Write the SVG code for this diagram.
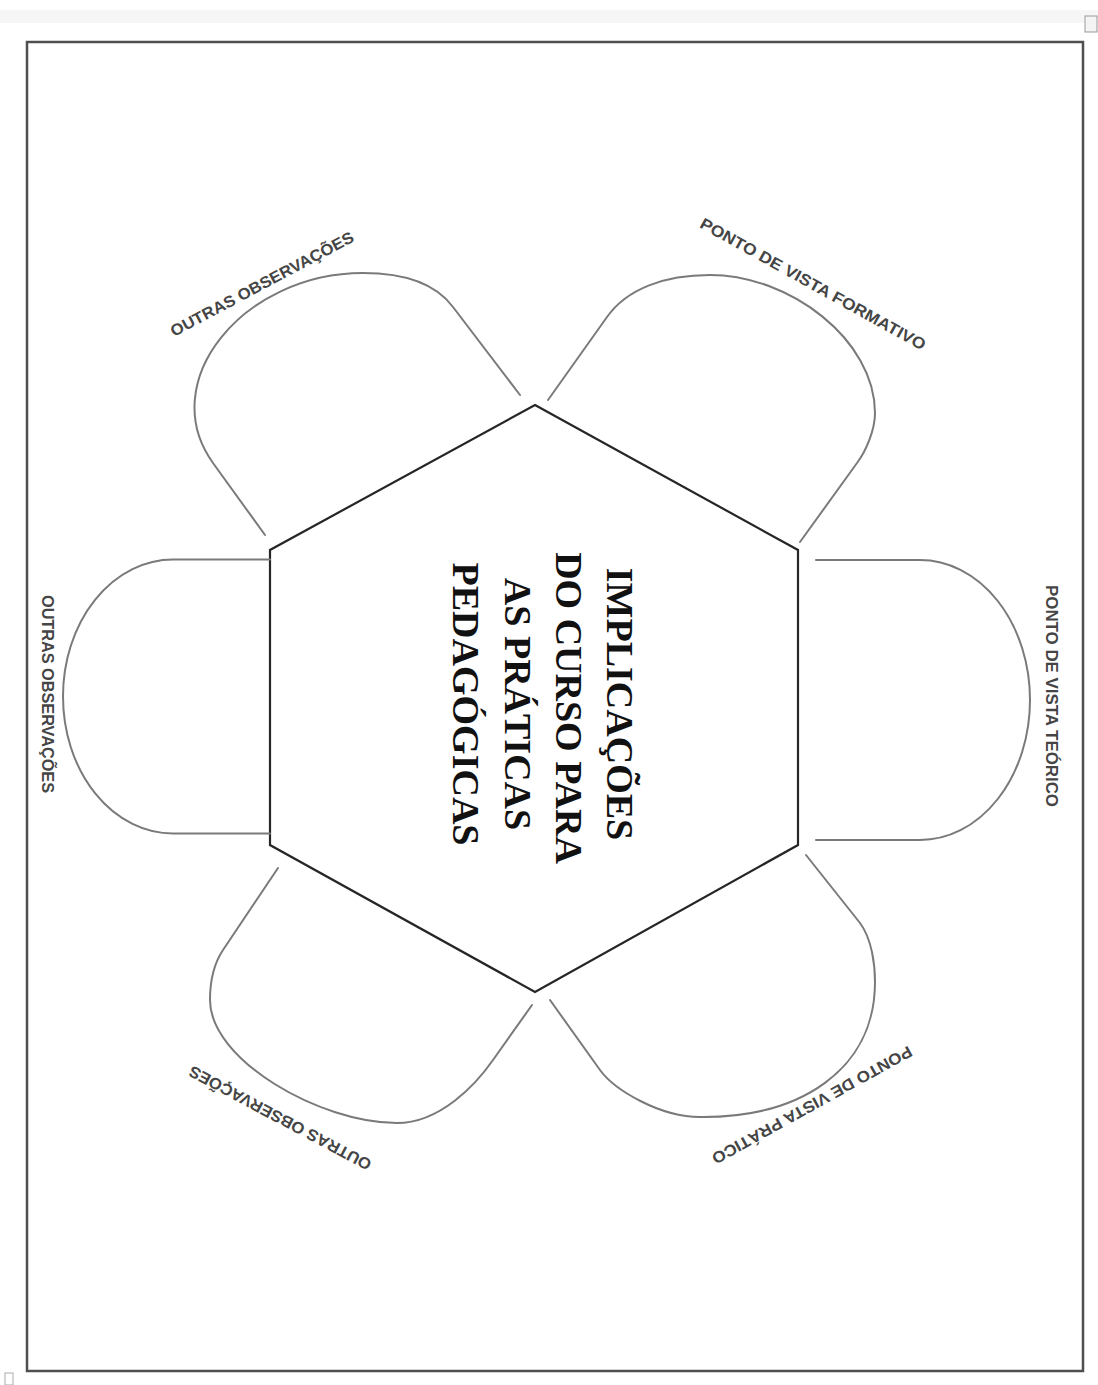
<svg xmlns="http://www.w3.org/2000/svg" width="1098" height="1385" viewBox="0 0 1098 1385">
  <style>
    .petal { fill: none; stroke: #7a7a7a; stroke-width: 2; stroke-linejoin: round; stroke-linecap: round; }
    .hex { fill: none; stroke: #262626; stroke-width: 2.2; stroke-linejoin: miter; }
    .lbl { font-family: "Liberation Sans", Arial, sans-serif; font-size: 16px; font-weight: bold; fill: #454545; text-anchor: middle; dominant-baseline: central; }
    .title { font-family: "Liberation Serif", "Times New Roman", serif; font-size: 38px; font-weight: bold; fill: #111; text-anchor: middle; }
  </style>
  <rect x="0" y="0" width="1098" height="1385" fill="#ffffff"/>
  <rect x="0" y="10" width="1098" height="13" fill="#f6f6f6"/>
  <g id="frame">
    <rect x="27" y="42" width="1056" height="1329" fill="#ffffff" stroke="#4f4f4f" stroke-width="2.5"/>
    <rect x="1085" y="16" width="12" height="16" fill="#f4f4f4" stroke="#999" stroke-width="1"/>
    <rect x="5" y="1373" width="8" height="12" fill="#fff" stroke="#aaa" stroke-width="1"/>
  </g>

  <g id="connectors"></g>

  <g id="node-center">
    <polygon class="hex" points="535,405 798,550 798,845 535,992 270,845 270,550"/>
    <g transform="translate(534 704) rotate(90)">
      <text class="title" x="0" y="-73">IMPLICAÇÕES</text>
      <text class="title" x="4" y="-22">DO CURSO PARA</text>
      <text class="title" x="0" y="29">AS PRÁTICAS</text>
      <text class="title" x="0" y="81">PEDAGÓGICAS</text>
    </g>
  </g>

  <g id="node-teorico">
    <path class="petal" transform="translate(534 698)" d="M282,-138 H386 A110,140 0 0 1 386,142 H282"/>
    <text class="lbl" transform="translate(1051 696) rotate(90)" textLength="222" lengthAdjust="spacingAndGlyphs">PONTO DE VISTA TEÓRICO</text>
  </g>

  <g id="node-formativo">
    <path class="petal" d="M548,400 L607,317 C627,288.5 665,275 710,275 C790,275 875,340 875,413 C875,430 866,451 857,463 L800,542"/>
    <text class="lbl" transform="translate(813 284) rotate(29)" textLength="255" lengthAdjust="spacingAndGlyphs">PONTO DE VISTA FORMATIVO</text>
  </g>

  <g id="node-outras-1">
    <path class="petal" d="M265,535 L213,463 C154.5,382 243,273 363,273 C405,273 436,284 453,307 L520,395"/>
    <text class="lbl" transform="translate(262 284) rotate(-28)" textLength="205" lengthAdjust="spacingAndGlyphs">OUTRAS OBSERVAÇÕES</text>
  </g>

  <g id="node-outras-2">
    <path class="petal" transform="translate(534 698) rotate(180)" d="M264,-135.5 H361 A110,137 0 0 1 361,138.5 H264"/>
    <text class="lbl" transform="translate(47 694) rotate(90)" textLength="198" lengthAdjust="spacingAndGlyphs">OUTRAS OBSERVAÇÕES</text>
  </g>

  <g id="node-outras-3">
    <path class="petal" d="M278,868 L223,950 C213,965 210,985 210,1000 C210,1060 320,1123 397,1123 C440,1123 476,1084.5 493,1060 L532,1005"/>
    <text class="lbl" transform="translate(280 1118) rotate(208)" textLength="204" lengthAdjust="spacingAndGlyphs">OUTRAS OBSERVAÇÕES</text>
  </g>

  <g id="node-pratico">
    <path class="petal" d="M806,855 L860,923 C872,939 875,965 875,982 C875,1070 800,1118 700,1117 C660,1117 614.5,1090 600,1070 L550,1000"/>
    <text class="lbl" transform="translate(812 1105) rotate(151)" textLength="226" lengthAdjust="spacingAndGlyphs">PONTO DE VISTA PRÁTICO</text>
  </g>
</svg>
